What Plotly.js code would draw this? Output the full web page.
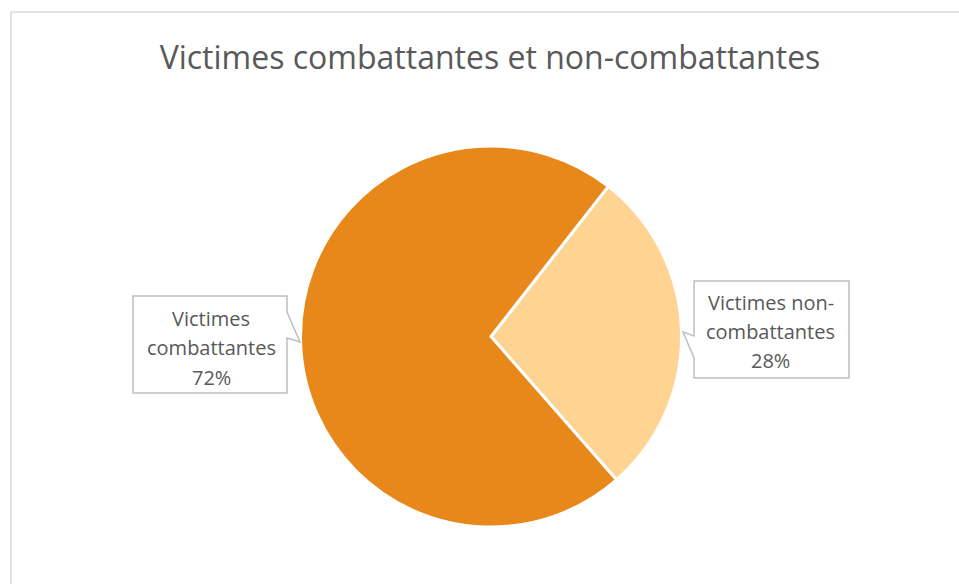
<!DOCTYPE html>
<html>
<head>
<meta charset="utf-8">
<script src="https://cdn.plot.ly/plotly-3.0.1.min.js"></script>
<style>html,body{margin:0;padding:0;background:#fff;}#chart{width:959px;height:584px;}</style>
</head>
<body>
<div id="chart"></div>
<script>
var categories = ["Victimes non-combattantes", "Victimes combattantes"];
var values = [28, 72];
var labelLines = [["Victimes non-", "combattantes", "28%"], ["Victimes", "combattantes", "72%"]];
var sliceColors = ["#FFD391", "#E8871A"];

var W = 959, H = 584;
function px(x) { return x / W; }
function py(y) { return 1 - y / H; }
function pathFrom(pts) {
  return pts.map(function (p, i) { return (i ? "L" : "M") + px(p[0]).toFixed(5) + "," + py(p[1]).toFixed(5); }).join(" ") + " Z";
}

var rightCallout = pathFrom([[694,281],[849,281],[849,378],[694,378],[694,358],[683,332],[694,336]]);
var leftCallout = pathFrom([[133,296],[287,296],[287,312],[300,342],[287,338],[287,393],[133,393]]);

var trace = {
  type: "pie",
  labels: categories,
  values: values,
  sort: false,
  direction: "clockwise",
  rotation: 38,
  textinfo: "none",
  hoverinfo: "label+percent",
  marker: { colors: sliceColors, line: { color: "#FFFFFF", width: 3 } },
  domain: { x: [px(300), px(682)], y: [py(527), py(146)] },
  showlegend: false
};

var labelFont = { family: "Open Sans, sans-serif", size: 20, color: "#595959" };
var calloutCenters = [[770.5, [302, 331.5, 360.5]], [211, [318, 347.5, 377]]];
var annotations = [];
labelLines.forEach(function (lines, i) {
  lines.forEach(function (t, j) {
    annotations.push({ xref: "paper", yref: "paper", x: px(calloutCenters[i][0]), y: py(calloutCenters[i][1][j]),
      xanchor: "center", yanchor: "middle", showarrow: false, text: t, font: labelFont });
  });
});

var layout = {
  width: W, height: H,
  margin: { l: 0, r: 0, t: 0, b: 0 },
  paper_bgcolor: "#FFFFFF",
  showlegend: false,
  title: {
    text: "Victimes combattantes et non-combattantes",
    x: px(490), xanchor: "center", y: py(58), yanchor: "middle",
    font: { family: "Open Sans, sans-serif", size: 32, color: "#595959" }
  },
  shapes: [
    { type: "line", xref: "paper", yref: "paper", x0: px(11), x1: px(11), y0: py(12), y1: 0, line: { color: "#D9D9D9", width: 1.5 } },
    { type: "line", xref: "paper", yref: "paper", x0: px(11), x1: 1, y0: py(12), y1: py(12), line: { color: "#D9D9D9", width: 1.5 } },
    { type: "path", xref: "paper", yref: "paper", path: rightCallout, fillcolor: "#FFFFFF", line: { color: "#BFBFBF", width: 1.5 }, layer: "above" },
    { type: "path", xref: "paper", yref: "paper", path: leftCallout, fillcolor: "#FFFFFF", line: { color: "#BFBFBF", width: 1.5 }, layer: "above" }
  ],
  annotations: annotations
};

Plotly.newPlot("chart", [trace], layout, { displayModeBar: false, staticPlot: true });
</script>
</body>
</html>
